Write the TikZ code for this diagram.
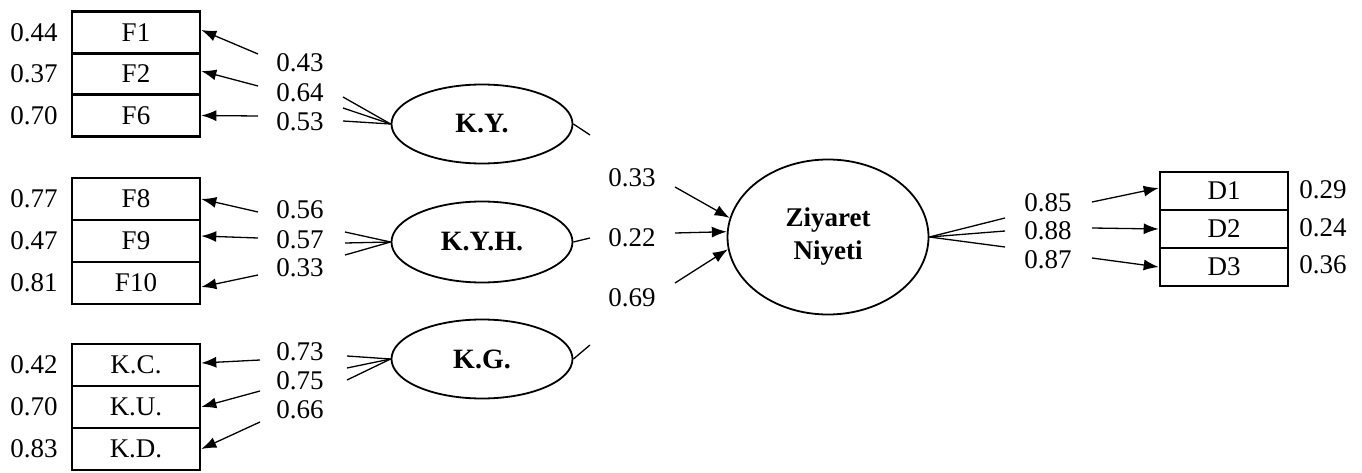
\documentclass[tikz,border=0pt]{standalone}
\usepackage{fontspec}
\setmainfont{Liberation Serif}
\usetikzlibrary{shapes.geometric,arrows.meta}
\begin{document}
\begin{tikzpicture}[x=1pt,y=-1pt,
  every node/.style={font=\fontsize{27}{31}\selectfont},
  obs/.style={draw, line width=2.6pt, minimum width=128pt, inner sep=0pt},
  lat/.style={draw, ellipse, line width=1.8pt, inner sep=0pt, minimum width=181pt, minimum height=79pt, font=\fontsize{28}{32}\selectfont\bfseries},
  num/.style={inner sep=0pt},
  ln/.style={line width=1.3pt},
  arr/.style={ln, -{Latex[length=15pt,width=11pt]}}]
\useasboundingbox (0,0) rectangle (1362,473);
% left boxes
\node[obs, minimum height=41.5pt] (F1) at (136,32.5) {F1};
\node[obs, minimum height=41.5pt] (F2) at (136,74) {F2};
\node[obs, minimum height=41.5pt] (F6) at (136,115.5) {F6};
\node[obs, minimum height=42pt] (F8) at (136,199) {F8};
\node[obs, minimum height=42pt] (F9) at (136,241) {F9};
\node[obs, minimum height=42pt] (F10) at (136,283) {F10};
\node[obs, minimum height=42pt] (KC) at (136,365) {K.C.};
\node[obs, minimum height=42pt] (KU) at (136,407) {K.U.};
\node[obs, minimum height=42pt] (KD) at (136,449) {K.D.};
% error values left
\node[num] (e1) at (34,32.5) {0.44};
\node[num] (e2) at (34,74) {0.37};
\node[num] (e3) at (34,115.5) {0.70};
\node[num] (e4) at (34,199) {0.77};
\node[num] (e5) at (34,241) {0.47};
\node[num] (e6) at (34,283) {0.81};
\node[num] (e7) at (34,365) {0.42};
\node[num] (e8) at (34,407) {0.70};
\node[num] (e9) at (34,449) {0.83};
% latent
\node[lat] (KY) at (482,124) {K.Y.};
\node[lat, minimum height=81pt] (KYH) at (482,242) {K.Y.H.};
\node[lat] (KG) at (482,359) {K.G.};
\node[draw, ellipse, line width=1.8pt, inner sep=0pt, minimum width=201pt, minimum height=155pt, align=center, font=\fontsize{27}{33}\selectfont\bfseries] (Z) at (828,237) {Ziyaret\\Niyeti};
% right boxes
\node[obs, minimum height=38pt] (D1) at (1224,191) {D1};
\node[obs, minimum height=38pt] (D2) at (1224,229) {D2};
\node[obs, minimum height=38pt] (D3) at (1224,267) {D3};
\node[num] (u1) at (1323,190) {0.29};
\node[num] (u2) at (1323,228) {0.24};
\node[num] (u3) at (1323,265) {0.36};
% loading labels
\node[num] (l1) at (300,63) {0.43};
\node[num] (l2) at (300,93) {0.64};
\node[num] (l3) at (300,122) {0.53};
\node[num] (l4) at (300,210) {0.56};
\node[num] (l5) at (300,240) {0.57};
\node[num] (l6) at (300,268) {0.33};
\node[num] (l7) at (300,352) {0.73};
\node[num] (l8) at (300,381) {0.75};
\node[num] (l9) at (300,410) {0.66};
\node[num] (m1) at (632,178) {0.33};
\node[num] (m2) at (632,238) {0.22};
\node[num] (m3) at (632,298) {0.69};
\node[num] (r1) at (1048,203) {0.85};
\node[num] (r2) at (1048,231) {0.88};
\node[num] (r3) at (1048,260) {0.87};
% free ends
\coordinate (a1) at (258,54);  \coordinate (a2) at (258,86);  \coordinate (a3) at (258,116);
\coordinate (f1) at (343,97);  \coordinate (f2) at (343,108); \coordinate (f3) at (343,121);
\coordinate (a4) at (258,212); \coordinate (a5) at (258,238); \coordinate (a6) at (258,275);
\coordinate (f4) at (345,232); \coordinate (f5) at (345,243); \coordinate (f6) at (345,255);
\coordinate (a7) at (260,360); \coordinate (a8) at (260,391); \coordinate (a9) at (260,422);
\coordinate (f7) at (347,356); \coordinate (f8) at (347,368); \coordinate (f9) at (347,380);
\coordinate (s1) at (590,135); \coordinate (s2) at (590,238); \coordinate (s3) at (590,345);
\coordinate (z1) at (675,187); \coordinate (z2) at (675,233); \coordinate (z3) at (675,283);
\coordinate (g1) at (1005,218); \coordinate (g2) at (1005,231); \coordinate (g3) at (1005,247);
\coordinate (d1) at (1092,202); \coordinate (d2) at (1092,228); \coordinate (d3) at (1092,258);
% K.Y.
\draw[ln] (KY.west) -- (f1); \draw[ln] (KY.west) -- (f2); \draw[ln] (KY.west) -- (f3);
\draw[arr] (a1) -- ([yshift=2.5pt]F1.east);
\draw[arr] (a2) -- ([yshift=3pt]F2.east);
\draw[arr] (a3) -- (F6.east);
% K.Y.H.
\draw[ln] (KYH.west) -- (f4); \draw[ln] (KYH.west) -- (f5); \draw[ln] (KYH.west) -- (f6);
\draw[arr] (a4) -- (F8.east);
\draw[arr] (a5) -- ([yshift=5pt]F9.east);
\draw[arr] (a6) -- ([yshift=-4pt]F10.east);
% K.G.
\draw[ln] (KG.west) -- (f7); \draw[ln] (KG.west) -- (f8); \draw[ln] (KG.west) -- (f9);
\draw[arr] (a7) -- ([yshift=2pt]KC.east);
\draw[arr] (a8) -- (KU.east);
\draw[arr] (a9) -- (KD.east);
% structural paths
\draw[ln] (KY.east) -- (s1);
\draw[ln] (KYH.east) -- (s2);
\draw[ln] (KG.east) -- (s3);
\draw[arr] (z1) -- (Z.169);
\draw[arr] (z2) -- (Z.177);
\draw[arr] (z3) -- (Z.187);
% Ziyaret Niyeti
\draw[ln] (Z.east) -- (g1); \draw[ln] (Z.east) -- (g2); \draw[ln] (Z.east) -- (g3);
\draw[arr] (d1) -- ([yshift=3pt]D1.west);
\draw[arr] (d2) -- (D2.west);
\draw[arr] (d3) -- (D3.west);
\end{tikzpicture}
\end{document}
